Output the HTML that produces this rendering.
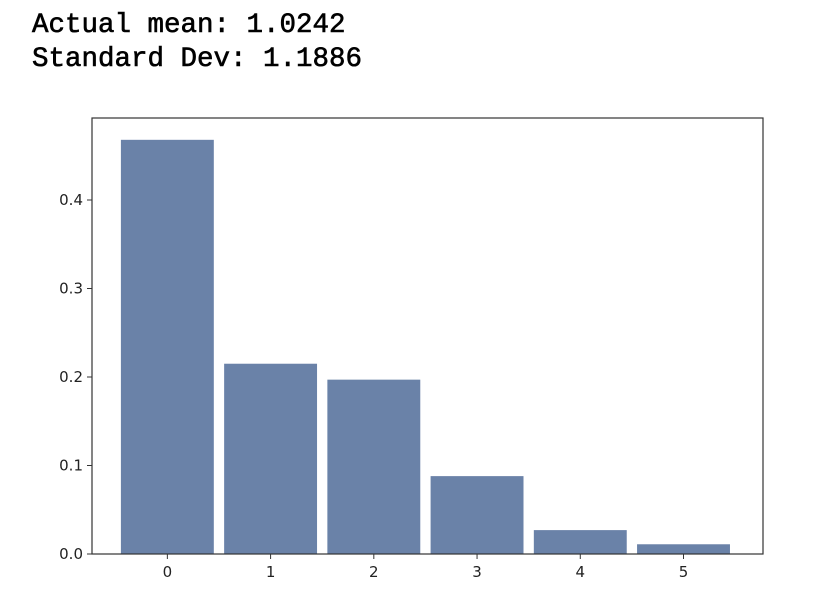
<!DOCTYPE html>
<html><head><meta charset="utf-8"><style>
body{margin:0;background:#fff;width:818px;height:606px;overflow:hidden;position:relative}
.t{position:absolute;left:32px;font-family:"Liberation Mono",monospace;font-size:27.5px;color:#000;white-space:pre;line-height:33px;-webkit-text-stroke:0.6px #000}
</style></head><body>
<div class="t" style="top:9px">Actual mean: 1.0242</div>
<div class="t" style="top:43px">Standard Dev: 1.1886</div>
<svg id="c" width="818" height="606" style="position:absolute;left:0;top:0"></svg>
<script>
const categories=[0,1,2,3,4,5];
const values=[0.468,0.215,0.197,0.088,0.027,0.011];
const yTicks=[0.0,0.1,0.2,0.3,0.4];
const yTickLabels=["0.0","0.1","0.2","0.3","0.4"];
const L=92,R=763,T=118,B=554;
const x0=-0.73,x1=5.77;
const xs=v=>L+(v-x0)/(x1-x0)*(R-L);
const ys=v=>B-v*885;
const svg=document.getElementById('c');
const NS='http://www.w3.org/2000/svg';
function mk(tag,attrs){const e=document.createElementNS(NS,tag);for(const k in attrs)e.setAttribute(k,attrs[k]);svg.appendChild(e);return e;}
categories.forEach((c,i)=>{
  const w=0.9*(R-L)/(x1-x0);
  const r=mk('rect',{x:xs(c)-w/2,y:ys(values[i]),width:w,height:B-ys(values[i]),fill:'#6a82a8'});
  
  
  const tk=mk('line',{x1:xs(c),x2:xs(c),y1:B,y2:B+5,stroke:'#333','stroke-width':1});
  
  
  const tl=mk('text',{x:xs(c),y:B+23,'text-anchor':'middle','font-family':'DejaVu Sans, sans-serif','font-size':'15',fill:'#222'});
  tl.textContent=String(c);
  
  
});
yTicks.forEach((v,i)=>{
  const tk=mk('line',{x1:L-5,x2:L,y1:ys(v),y2:ys(v),stroke:'#333','stroke-width':1});
  
  
  const tl=mk('text',{x:L-9,y:ys(v)+5,'text-anchor':'end','font-family':'DejaVu Sans, sans-serif','font-size':'15',fill:'#222'});
  tl.textContent=yTickLabels[i];
  
  
});
const fr=mk('rect',{x:L,y:T,width:R-L,height:B-T,fill:'none',stroke:'#333','stroke-width':1.2});


</script>
</body></html>
